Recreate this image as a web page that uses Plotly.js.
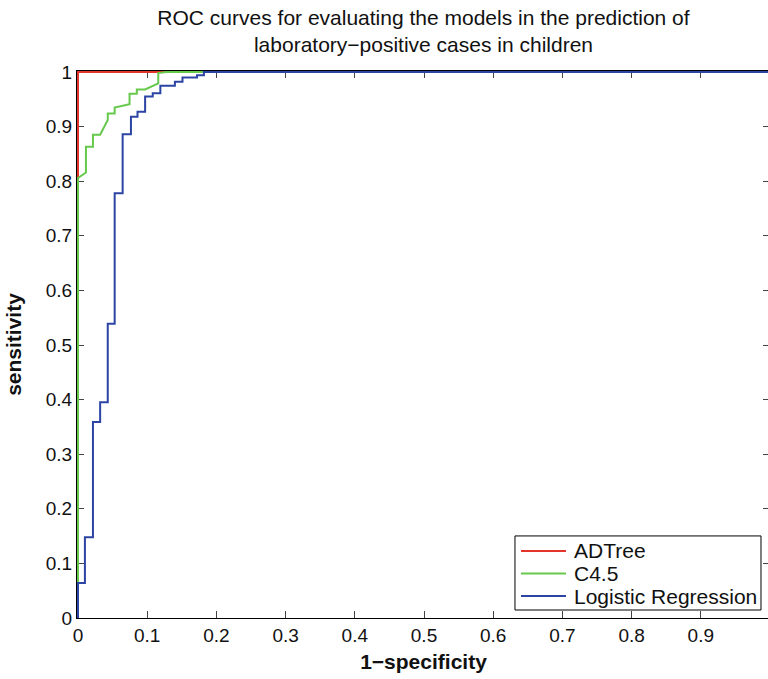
<!DOCTYPE html>
<html>
<head>
<meta charset="utf-8">
<script src="https://cdn.plot.ly/plotly-3.0.1.min.js"></script>
<style>
html,body{margin:0;padding:0;overflow:hidden;background:#fff;}
#chart{width:772px;height:679px;}
</style>
</head>
<body>
<div id="chart"></div>
<script>
// ADTree ROC curve
const adtreeFpr = [0, 0, 1];
const adtreeTpr = [0, 1, 1];

// C4.5 ROC curve
const c45Fpr = [0, 0, 0.0115, 0.0115, 0.0216, 0.0216, 0.032, 0.043, 0.043, 0.053, 0.053, 0.0745, 0.0745, 0.085, 0.085, 0.097, 0.116, 0.116, 0.127, 1];
const c45Tpr = [0, 0.806, 0.816, 0.863, 0.863, 0.885, 0.885, 0.912, 0.924, 0.924, 0.935, 0.941, 0.960, 0.960, 0.968, 0.968, 0.979, 0.998, 1, 1];

// Logistic Regression ROC curve (step corners)
const lrFpr = [0, 0.010, 0.0216, 0.032, 0.043, 0.053, 0.0645, 0.0765, 0.086, 0.097, 0.108, 0.119, 0.140, 0.151, 0.172, 0.182, 1];
const lrTpr = [0, 0.064, 0.148, 0.359, 0.395, 0.539, 0.778, 0.886, 0.918, 0.927, 0.955, 0.961, 0.975, 0.982, 0.990, 0.994, 1];

const seriesNames = ['ADTree', 'C4.5', 'Logistic Regression'];
const seriesColors = ['#e3352b', '#66c94c', '#2c44a3'];

const tickVals = [0, 0.1, 0.2, 0.3, 0.4, 0.5, 0.6, 0.7, 0.8, 0.9, 1];
const tickText = ['0', '0.1', '0.2', '0.3', '0.4', '0.5', '0.6', '0.7', '0.8', '0.9', '1'];

const FONT = 'Liberation Sans, Arial, Helvetica, sans-serif';

const traces = [
  {x: adtreeFpr, y: adtreeTpr, mode: 'lines', name: seriesNames[0],
   line: {color: seriesColors[0], width: 2}},
  {x: c45Fpr, y: c45Tpr, mode: 'lines', name: seriesNames[1],
   line: {color: seriesColors[1], width: 2}},
  {x: lrFpr, y: lrTpr, mode: 'lines', name: seriesNames[2],
   line: {color: seriesColors[2], width: 2, shape: 'vh'}}
];

const axisCommon = {
  tickvals: tickVals,
  ticktext: tickText,
  ticks: 'inside',
  ticklen: 7,
  tickwidth: 1,
  tickcolor: '#444',
  showline: true,
  linecolor: '#000',
  linewidth: 1,
  mirror: 'allticks',
  showgrid: false,
  zeroline: false,
  layer: 'below traces',
  tickfont: {family: FONT, size: 19, color: '#111'},
  fixedrange: true
};

// legend drawn as a framed box in paper coordinates
const legX0 = 0.632, legX1 = 0.987, legY0 = 0.0146, legY1 = 0.150;
const legLineX0 = 0.6407, legLineX1 = 0.7056, legTextX = 0.7143;
const legRowY = [0.1225, 0.0814, 0.0402];

const shapes = [{
  type: 'rect', xref: 'paper', yref: 'paper',
  x0: legX0, x1: legX1, y0: legY0, y1: legY1,
  fillcolor: '#fff', line: {color: '#000', width: 1}, layer: 'above'
}];
const annotations = [];
seriesNames.forEach((n, i) => {
  shapes.push({
    type: 'line', xref: 'paper', yref: 'paper',
    x0: legLineX0, x1: legLineX1, y0: legRowY[i], y1: legRowY[i],
    line: {color: seriesColors[i], width: 2}, layer: 'above'
  });
  annotations.push({
    xref: 'paper', yref: 'paper', x: legTextX, y: legRowY[i],
    xanchor: 'left', yanchor: 'middle', showarrow: false,
    text: n, font: {family: FONT, size: 21, color: '#111'}
  });
});

const layout = {
  width: 772,
  height: 679,
  margin: {l: 77, r: 2, t: 71, b: 61},
  paper_bgcolor: '#fff',
  plot_bgcolor: '#fff',
  title: {
    text: 'ROC curves for evaluating the models in the prediction of<br>laboratory\u2212positive cases in children',
    font: {family: FONT, size: 21, color: '#111'},
    x: 0.5, xref: 'paper', xanchor: 'center',
    y: 0.963, yref: 'container', yanchor: 'top'
  },
  xaxis: Object.assign({}, axisCommon, {
    range: [-1 / 693, 1],
    title: {text: '<b>1\u2212specificity</b>', font: {family: FONT, size: 21, color: '#111'}, standoff: 9}
  }),
  yaxis: Object.assign({}, axisCommon, {
    range: [0, 1 + 1 / 547],
    title: {text: '<b>sensitivity</b>', font: {family: FONT, size: 21, color: '#111'}, standoff: 18}
  }),
  showlegend: false,
  shapes: shapes,
  annotations: annotations
};

Plotly.newPlot('chart', traces, layout, {displayModeBar: false, staticPlot: true});
</script>
</body>
</html>
